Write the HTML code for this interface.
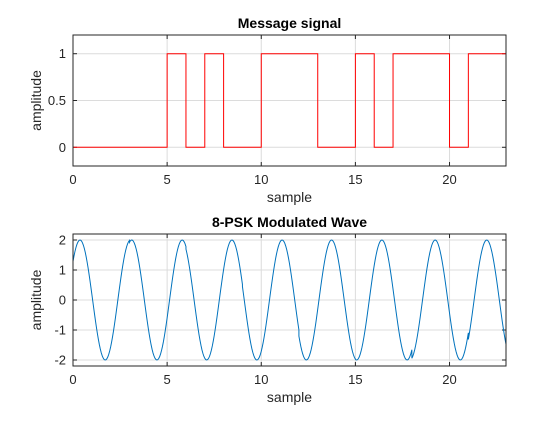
<!DOCTYPE html>
<html><head><meta charset="utf-8"><style>
body{margin:0;background:#fff;width:560px;height:420px;overflow:hidden}
svg{font-family:"Liberation Sans",Arial,sans-serif}
</style></head><body>
<svg id="fig" width="560" height="420"></svg>
<script>
const bitSamples=[0,1,2,3,4,5,6,7,8,9,10,11,12,13,14,15,16,17,18,19,20,21,22];
const bits=[0,0,0,0,0,1,0,1,0,0,1,1,1,0,0,1,0,1,1,1,0,1,1];
const symbolStarts=[0,3,6,9,12,15,18,21];
const phaseDeg=[-50,-59,-54,-52,-45,-44,-64,-72];
const carrierPeriod=[2.68];
const amp=[2];
const xTicks=[0,5,10,15,20];
const yTicksTop=[0,0.5,1];
const yTicksBot=[-2,-1,0,1,2];
const NS="http://www.w3.org/2000/svg";
const svg=document.getElementById('fig');
function mk(tag,attrs,parent){const e=document.createElementNS(NS,tag);for(const k in attrs)e.setAttribute(k,attrs[k]);(parent||svg).appendChild(e);return e;}
function axes(top,bot,ymin,ymax,yt,title,name){
  const L=73,R=506,xmax=23;
  const sx=v=>L+(v/xmax)*(R-L);
  const sy=v=>bot-(v-ymin)/(ymax-ymin)*(bot-top);
  const g=mk('g',{});
  
  
  mk('rect',{x:L,y:top,width:R-L,height:bot-top,fill:'#fff'},g);
  xTicks.forEach(v=>{const l=mk('line',{x1:sx(v),x2:sx(v),y1:top,y2:bot,stroke:'#dcdcdc','stroke-width':1},g);});
  yt.forEach(v=>{const l=mk('line',{x1:L,x2:R,y1:sy(v),y2:sy(v),stroke:'#dcdcdc','stroke-width':1},g);});
  xTicks.forEach(v=>{
    mk('line',{x1:sx(v),x2:sx(v),y1:bot,y2:bot-4,stroke:'#262626'},g);
    mk('line',{x1:sx(v),x2:sx(v),y1:top,y2:top+4,stroke:'#262626'},g);
    const t=mk('text',{x:sx(v),y:bot+18,'text-anchor':'middle','font-size':13,fill:'#262626'},g);t.textContent=v;
    
  });
  yt.forEach(v=>{
    mk('line',{x1:L,x2:L+4,y1:sy(v),y2:sy(v),stroke:'#262626'},g);
    mk('line',{x1:R,x2:R-4,y1:sy(v),y2:sy(v),stroke:'#262626'},g);
    const t=mk('text',{x:L-7,y:sy(v)+4.5,'text-anchor':'end','font-size':13,fill:'#262626'},g);t.textContent=v;
    
  });
  const tt=mk('text',{x:(L+R)/2,y:top-7,'text-anchor':'middle','font-size':14,'font-weight':'bold',fill:'#000'},g);tt.textContent=title;
  
  const xl=mk('text',{x:(L+R)/2,y:bot+36,'text-anchor':'middle','font-size':14,fill:'#262626'},g);xl.textContent='sample';
  
  const yl=mk('text',{x:0,y:0,'text-anchor':'middle','font-size':14,fill:'#262626',transform:`translate(41,${(top+bot)/2}) rotate(-90)`},g);yl.textContent='amplitude';
  
  return {g,sx,sy,L,R,top,bot};
}
function frame(a){const r=mk('rect',{x:a.L,y:a.top,width:a.R-a.L,height:a.bot-a.top,fill:'none',stroke:'#262626','stroke-width':1},a.g);}
// top
const A=axes(35,166,-0.2,1.2,yTicksTop,'Message signal','message-plot');
let d='';
bitSamples.forEach((s,i)=>{const y=A.sy(bits[i]);d+=(i===0?'M':'L')+A.sx(s)+','+y+'L'+A.sx(s+1)+','+y;});
const p1=mk('path',{d,fill:'none',stroke:'#ff0000','stroke-width':1},A.g);


frame(A);
// bottom
const B=axes(234,366,-2.2,2.2,yTicksBot,'8-PSK Modulated Wave','psk-plot');
const w=2*Math.PI/carrierPeriod[0];
let d2='';
symbolStarts.forEach((s0,k)=>{
  const s1=Math.min(s0+3,23);const ph=phaseDeg[k]*Math.PI/180;
  for(let t=s0;t<=s1+1e-9;t+=0.05){const v=amp[0]*Math.cos(w*t+ph);d2+=(d2===''?'M':'L')+B.sx(t).toFixed(2)+','+B.sy(v).toFixed(2);}
});
const p2=mk('path',{d:d2,fill:'none',stroke:'#0072bd','stroke-width':1},B.g);


frame(B);
</script>
</body></html>
